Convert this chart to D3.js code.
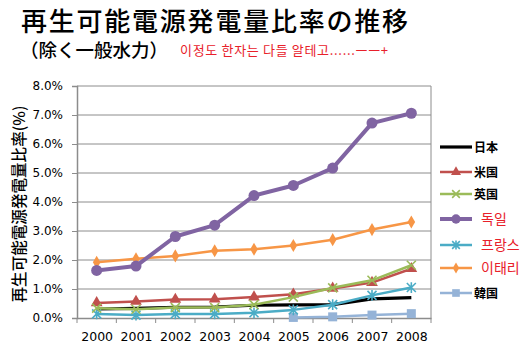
<!DOCTYPE html>
<html><head><meta charset="utf-8">
<script src="https://cdn.jsdelivr.net/npm/d3@7"></script>
<style>
body{margin:0;background:#fff;}
svg{display:block;}
</style></head>
<body>
<svg id="c" width="523" height="360"></svg>
<script>
const years = ["2000","2001","2002","2003","2004","2005","2006","2007","2008"];
const yTicks = [0,0.01,0.02,0.03,0.04,0.05,0.06,0.07,0.08];
const japan   = [0.31,0.33,0.37,0.38,0.44,0.45,0.46,0.66,0.70];
const usa     = [0.52,0.57,0.64,0.65,0.72,0.82,1.02,1.22,1.70];
const uk      = [0.34,0.30,0.36,0.36,0.46,0.72,1.04,1.30,1.82];
const germany = [1.64,1.79,2.81,3.20,4.22,4.57,5.17,6.72,7.06];
const france  = [0.14,0.10,0.14,0.14,0.18,0.28,0.46,0.78,1.05];
const italy   = [1.92,2.04,2.14,2.32,2.37,2.50,2.70,3.05,3.31];
const korea   = [null,null,null,null,null,0.02,0.04,0.10,0.15];
const seriesNames = ["日本","米国","英国","독일","프랑스","이태리","韓国"];

const series = [
  {name:seriesNames[0], data:japan,   color:"#000000", width:3.2, marker:"none",    label:"#000"},
  {name:seriesNames[1], data:usa,     color:"#C0504D", width:2.5, marker:"triangle",label:"#000"},
  {name:seriesNames[2], data:uk,      color:"#9BBB59", width:2.5, marker:"x",       label:"#000"},
  {name:seriesNames[3], data:germany, color:"#8064A2", width:4,   marker:"circle",  label:"#e8202a"},
  {name:seriesNames[4], data:france,  color:"#4BACC6", width:2.5, marker:"star",    label:"#e8202a"},
  {name:seriesNames[5], data:italy,   color:"#F79646", width:2.5, marker:"diamond", label:"#e8202a"},
  {name:seriesNames[6], data:korea,   color:"#95B3D7", width:2.5, marker:"square",  label:"#000"}
];

const svg = d3.select("#c");
const L=77, R=431, T=86, B=318;
const x = d3.scalePoint().domain(years).range([L,R]).padding(0.5);
const y = d3.scaleLinear().domain([0,0.08]).range([B,T]);

// titles
svg.append("text").attr("x",21).attr("y",31).attr("font-family","Noto Sans CJK JP").attr("font-size",26)
  .attr("font-weight",500).attr("textLength",387).attr("fill","#000").text("再生可能電源発電量比率の推移");
svg.append("text").attr("x",20).attr("y",57).attr("font-family","Noto Sans CJK JP").attr("font-size",18.5)
  .attr("font-weight",500).attr("fill","#000").text("（除く一般水力）");
svg.append("text").attr("x",180).attr("y",55).attr("font-family","Noto Sans CJK KR").attr("font-size",13)
  .attr("textLength",208).attr("fill","#e8202a").text("이정도 한자는 다들 알테고......ㅡㅡ+");

// y axis title
svg.append("text").attr("transform",`translate(25,204) rotate(-90)`).attr("text-anchor","middle")
  .attr("font-family","Noto Sans CJK JP").attr("font-size",15.5).attr("font-weight",500).attr("fill","#000")
  .attr("textLength",197).text("再生可能電源発電量比率(%)");

// gridlines
svg.append("g").selectAll("line").data(yTicks.slice(1)).join("line")
  .attr("x1",L).attr("x2",R).attr("y1",d=>y(d)).attr("y2",d=>y(d))
  .attr("stroke","#8c8c8c").attr("stroke-width",1);
// right border
svg.append("line").attr("x1",R).attr("x2",R).attr("y1",T).attr("y2",B).attr("stroke","#8c8c8c");

// y axis
const ya = svg.append("g").attr("transform",`translate(${L},0)`)
  .call(d3.axisLeft(y).tickValues(yTicks).tickFormat(d3.format(".1%")).tickSize(5).tickPadding(9));
ya.select(".domain").attr("stroke","#8c8c8c").attr("stroke-width",1.5);
ya.selectAll(".tick line").attr("stroke","#8c8c8c");
ya.selectAll("text").attr("font-family","DejaVu Sans").attr("font-size",12).attr("fill","#000");

// x axis
const xa = svg.append("g").attr("transform",`translate(0,${B})`)
  .call(d3.axisBottom(x).tickSize(0).tickPadding(14));
xa.select(".domain").attr("stroke","#8c8c8c").attr("stroke-width",1.5);
xa.selectAll("text").attr("font-family","DejaVu Sans").attr("font-size",12.5).attr("fill","#000");
const step = x.step();
const edges = d3.range(years.length+1).map(i=>L+i*step);
xa.append("g").selectAll("line").data(edges).join("line")
  .attr("x1",d=>d).attr("x2",d=>d).attr("y1",0).attr("y2",5).attr("stroke","#8c8c8c");

function drawMarker(g, type, color, cx, cy, s){
  if(type==="circle") g.append("circle").attr("cx",cx).attr("cy",cy).attr("r",5.5*s).attr("fill",color);
  else if(type==="triangle") g.append("path").attr("d",d3.symbol(d3.symbolTriangle,60*s*s)()).attr("transform",`translate(${cx},${cy})`).attr("fill",color);
  else if(type==="diamond") g.append("path").attr("d",d3.symbol(d3.symbolDiamond,50*s*s)()).attr("transform",`translate(${cx},${cy})`).attr("fill",color);
  else if(type==="square") g.append("rect").attr("x",cx-4.5*s).attr("y",cy-4.5*s).attr("width",9*s).attr("height",9*s).attr("fill",color);
  else if(type==="x"){
    const r=4.5*s;
    g.append("path").attr("d",`M${cx-r},${cy-r}L${cx+r},${cy+r}M${cx-r},${cy+r}L${cx+r},${cy-r}`).attr("stroke",color).attr("stroke-width",1.6);
  } else if(type==="star"){
    const r=4.5*s;
    g.append("path").attr("d",`M${cx-r},${cy-r}L${cx+r},${cy+r}M${cx-r},${cy+r}L${cx+r},${cy-r}M${cx},${cy-r*1.2}L${cx},${cy+r*1.2}`).attr("stroke",color).attr("stroke-width",1.6);
  }
}

const line = d3.line().defined(d=>d.v!=null).x(d=>x(d.year)).y(d=>y(d.v/100));
// draw order: back to front
const order = [6,0,4,1,2,5,3];
order.forEach(i=>{
  const s = series[i];
  const pts = years.map((yr,j)=>({year:yr,v:s.data[j]}));
  const g = svg.append("g");
  g.append("path").attr("d",line(pts)).attr("fill","none").attr("stroke",s.color)
    .attr("stroke-width",s.width).attr("stroke-linejoin","round");
  pts.filter(p=>p.v!=null).forEach(p=>drawMarker(g,s.marker,s.color,x(p.year),y(p.v/100),1));
});

// legend
const legY = [147,172,194,219,245,268,293];
series.forEach((s,i)=>{
  const g = svg.append("g");
  const yy = legY[i];
  g.append("line").attr("x1",440).attr("x2",472).attr("y1",yy).attr("y2",yy)
    .attr("stroke",s.color).attr("stroke-width",s.width);
  if(s.marker!=="none") drawMarker(g,s.marker,s.color,456,yy,0.85);
  const kor = s.label!=="#000";
  g.append("text").attr("x",kor?481:474).attr("y",yy+4.5)
    .attr("font-family",kor?"Noto Sans CJK KR":"Noto Sans CJK JP")
    .attr("font-size",kor?14:12).attr("font-weight",kor?"normal":"bold").attr("fill",s.label).text(s.name);
});
</script>
</body></html>
